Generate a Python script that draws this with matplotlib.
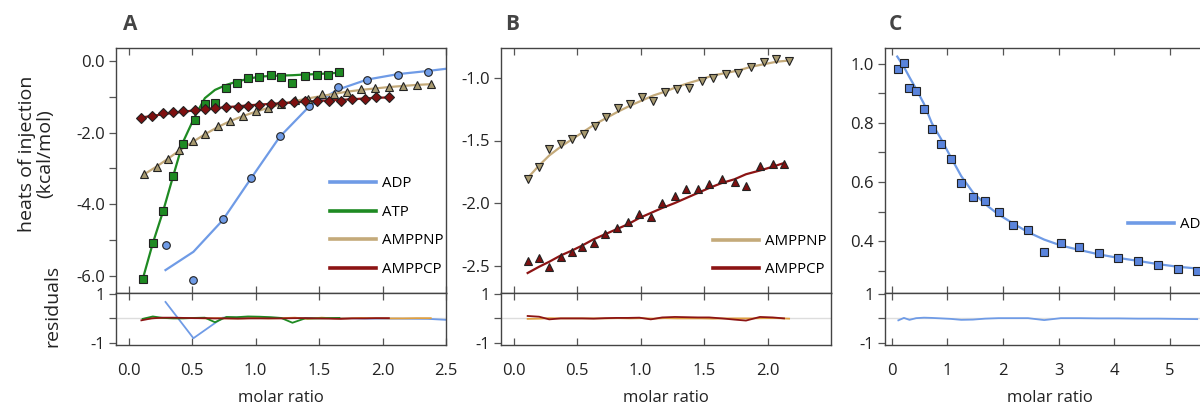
import matplotlib.pyplot as plt
from matplotlib.ticker import FixedLocator, FormatStrFormatter
from matplotlib.lines import Line2D

plt.rcParams['font.family'] = ['Open Sans', 'DejaVu Sans']
plt.rcParams['axes.unicode_minus'] = False

# ---- panel A data ----
adp_x = [0.29, 0.51, 0.74, 0.96, 1.19, 1.42, 1.65, 1.88, 2.12, 2.36]
adp_y = [-5.14, -6.13, -4.42, -3.28, -2.11, -1.26, -0.74, -0.54, -0.38, -0.30]
adp_fit_x = [0.29, 0.51, 0.74, 0.96, 1.19, 1.42, 1.65, 1.88, 2.12, 2.36, 2.5]
adp_fit = [-5.84, -5.33, -4.45, -3.30, -2.12, -1.28, -0.80, -0.52, -0.37, -0.28, -0.22]
adp_res = [0.68, -0.82, 0.03, 0.04, 0.02, 0.02, 0.01, -0.01, -0.01, -0.02, -0.06]

atp_x = [0.11, 0.19, 0.27, 0.35, 0.43, 0.52, 0.60, 0.68, 0.77, 0.85, 0.94, 1.03,
         1.12, 1.20, 1.29, 1.39, 1.48, 1.57, 1.66]
atp_y = [-6.10, -5.09, -4.19, -3.20, -2.31, -1.65, -1.20, -1.18, -0.77, -0.62, -0.49,
         -0.46, -0.40, -0.44, -0.61, -0.43, -0.38, -0.38, -0.32]
atp_fit = [-6.10, -5.09, -4.21, -3.22, -2.25, -1.56, -1.04, -0.81, -0.67, -0.58, -0.50,
           -0.44, -0.42, -0.41, -0.40, -0.38, -0.37, -0.35, -0.33]
atp_res = [-0.02, 0.08, 0.02, 0.00, 0.00, 0.02, 0.03, -0.16, 0.06, 0.05, 0.08,
           0.07, 0.05, 0.02, -0.18, 0.00, 0.00, 0.01, 0.02]

pnp_x = [0.12, 0.22, 0.31, 0.40, 0.51, 0.60, 0.70, 0.80, 0.90, 1.00, 1.10, 1.20,
         1.31, 1.41, 1.52, 1.62, 1.72, 1.83, 1.94, 2.05, 2.16, 2.27, 2.38]
pnp_y = [-3.17, -2.95, -2.74, -2.49, -2.23, -2.05, -1.82, -1.68, -1.54, -1.40, -1.32,
         -1.20, -1.09, -1.07, -0.92, -0.92, -0.87, -0.78, -0.75, -0.72, -0.69, -0.66, -0.64]
pnp_fit = [-3.17, -2.95, -2.73, -2.50, -2.25, -2.05, -1.85, -1.68, -1.54, -1.42, -1.31,
           -1.21, -1.12, -1.05, -0.98, -0.92, -0.86, -0.81, -0.77, -0.73, -0.70, -0.67, -0.65]
pnp_res = [-0.02, 0.02, 0.01, 0.01, 0.02, 0.00, 0.01, 0.00, 0.00, 0.02, 0.00,
           0.01, 0.03, -0.02, 0.03, 0.00, 0.00, 0.02, 0.01, 0.00, 0.00, 0.01, 0.01]

pcp_x = [0.10, 0.18, 0.27, 0.35, 0.43, 0.52, 0.60, 0.68, 0.77, 0.86, 0.94, 1.03,
         1.12, 1.21, 1.30, 1.39, 1.48, 1.58, 1.67, 1.76, 1.86, 1.95, 2.05]
pcp_y = [-1.60, -1.54, -1.46, -1.42, -1.40, -1.37, -1.34, -1.32, -1.29, -1.28, -1.25,
         -1.22, -1.20, -1.18, -1.15, -1.13, -1.12, -1.11, -1.11, -1.07, -1.05, -1.02, -1.01]
pcp_fit = [-1.58, -1.54, -1.49, -1.45, -1.42, -1.38, -1.35, -1.32, -1.29, -1.27, -1.24,
           -1.22, -1.20, -1.18, -1.16, -1.14, -1.12, -1.10, -1.09, -1.07, -1.05, -1.03, -1.02]
pcp_res = [-0.08, 0.00, 0.03, 0.03, 0.02, 0.01, 0.01, 0.00, 0.00, -0.01, 0.00,
           0.00, 0.00, 0.00, 0.01, 0.01, 0.00, -0.01, -0.02, 0.00, 0.00, 0.01, 0.01]

# ---- panel B data ----
b_pnp_x = [0.11, 0.20, 0.28, 0.37, 0.46, 0.55, 0.64, 0.73, 0.82, 0.92, 1.01, 1.10,
           1.19, 1.29, 1.38, 1.48, 1.57, 1.67, 1.77, 1.87, 1.97, 2.07, 2.17]
b_pnp_y = [-1.81, -1.71, -1.57, -1.53, -1.49, -1.45, -1.38, -1.31, -1.24, -1.21, -1.15,
           -1.18, -1.11, -1.09, -1.08, -1.02, -1.00, -0.97, -0.96, -0.91, -0.87, -0.85, -0.86]
b_pnp_fit = [-1.80, -1.70, -1.62, -1.55, -1.49, -1.43, -1.37, -1.32, -1.27, -1.22, -1.18,
             -1.14, -1.11, -1.07, -1.04, -1.01, -0.98, -0.96, -0.94, -0.91, -0.89, -0.87, -0.86]
b_pnp_res = [-0.02, -0.01, 0.01, 0.00, 0.00, 0.00, 0.00, 0.00, 0.01, 0.00, 0.01,
             -0.01, 0.01, 0.00, 0.00, 0.00, -0.01, 0.00, 0.00, 0.00, 0.01, 0.01, -0.01]

b_pcp_x = [0.11, 0.20, 0.28, 0.37, 0.46, 0.54, 0.63, 0.72, 0.81, 0.90, 0.99, 1.08,
           1.17, 1.27, 1.36, 1.45, 1.54, 1.64, 1.74, 1.83, 1.94, 2.04, 2.13]
b_pcp_y = [-2.46, -2.44, -2.51, -2.43, -2.39, -2.35, -2.32, -2.25, -2.20, -2.15, -2.09,
           -2.11, -2.00, -1.94, -1.89, -1.89, -1.85, -1.81, -1.83, -1.86, -1.70, -1.69, -1.69]
b_pcp_fit = [-2.56, -2.51, -2.47, -2.42, -2.38, -2.34, -2.29, -2.25, -2.21, -2.17, -2.12,
             -2.08, -2.04, -2.00, -1.96, -1.92, -1.88, -1.84, -1.81, -1.77, -1.74, -1.71, -1.68]
b_pcp_res = [0.10, 0.07, -0.04, 0.00, 0.00, 0.00, -0.01, 0.01, 0.02, 0.02, 0.03,
             -0.04, 0.04, 0.06, 0.05, 0.04, 0.04, 0.00, -0.05, -0.09, 0.06, 0.04, 0.00]

# ---- panel C data ----
c_x = [0.12, 0.22, 0.32, 0.44, 0.58, 0.72, 0.89, 1.06, 1.25, 1.46, 1.68, 1.92,
       2.18, 2.45, 2.74, 3.04, 3.37, 3.72, 4.07, 4.42, 4.78, 5.14, 5.49]
c_y = [0.982, 1.002, 0.918, 0.910, 0.847, 0.780, 0.730, 0.679, 0.596, 0.550, 0.537, 0.497,
       0.454, 0.437, 0.364, 0.392, 0.381, 0.360, 0.341, 0.334, 0.319, 0.305, 0.298]
c_fit_x = [0.10, 0.22, 0.32, 0.44, 0.58, 0.72, 0.89, 1.06, 1.25, 1.46, 1.68, 1.92,
           2.18, 2.45, 2.74, 3.04, 3.37, 3.72, 4.07, 4.42, 4.78, 5.14, 5.49, 5.8]
c_fit = [1.025, 0.99, 0.955, 0.915, 0.865, 0.80, 0.745, 0.685, 0.62, 0.565, 0.525, 0.49,
         0.46, 0.43, 0.405, 0.385, 0.37, 0.355, 0.343, 0.333, 0.322, 0.313, 0.307, 0.302]
c_res = [-0.08, 0.02, -0.06, 0.01, 0.03, 0.02, 0.00, -0.02, -0.06, -0.05, -0.01, 0.01,
         0.01, 0.01, -0.07, 0.01, 0.01, 0.00, 0.00, -0.01, -0.01, -0.02, -0.03]

c_adp = '#6f9be6'
c_atp = '#1e8a22'
c_pnp = '#c4aa7a'
c_pcp = '#8c1414'
edge = '#222222'

W, H = 1200, 412
fig = plt.figure(figsize=(12, 4.12), dpi=100)


def px(x0, y0, w, h):
    return [x0 / W, 1 - (y0 + h) / H, w / W, h / H]


def style(ax, ax_r, xlim, xticks, xfmt):
    for a in (ax, ax_r):
        a.set_xlim(xlim)
        a.set_xticks(xticks)
        a.tick_params(axis='x', direction='in', top=True, bottom=True, length=5,
                      color='#555555', width=0.9)
        a.tick_params(axis='y', direction='out', length=5, color='#555555', width=0.9,
                      labelsize=12, labelcolor='#222222', pad=3)
        a.tick_params(which='minor', axis='y', direction='out', length=5, color='#555555', width=0.9)
        for s in a.spines.values():
            s.set_color('#444444')
            s.set_linewidth(1.0)
    ax.tick_params(axis='x', labelbottom=False)
    ax_r.tick_params(axis='x', labelsize=12, labelcolor='#222222', pad=13)
    ax_r.xaxis.set_major_formatter(FormatStrFormatter(xfmt))
    ax_r.set_ylim(-1.1, 1.05)
    ax_r.set_yticks([1, -1])
    ax_r.set_yticklabels(['1', '-1'])
    ax_r.yaxis.set_minor_locator(FixedLocator([0]))
    ax_r.axhline(0, color='#dddddd', lw=1, zorder=0)
    ax_r.set_xlabel('molar ratio', fontsize=12, color='#222222', labelpad=8)


def legend(ax, items, xa, ya):
    handles = [Line2D([], [], color=c, lw=2.6) for c, _ in items]
    ax.legend(handles, [t for _, t in items], loc='center left', bbox_to_anchor=(xa, ya),
              frameon=False, fontsize=10.8, handlelength=3.1, handletextpad=0.4,
              labelspacing=0.9, borderpad=0, borderaxespad=0)


mk = dict(markeredgecolor=edge, markeredgewidth=0.8, linestyle='none', zorder=3)

# ---- panel A ----
axA = fig.add_axes(px(116, 48, 330, 245))
axAr = fig.add_axes(px(116, 293, 330, 52))
axA.plot(adp_fit_x, adp_fit, color=c_adp, lw=1.6)
axA.plot(adp_x, adp_y, marker='o', ms=5.5, color=c_adp, **mk)
axA.plot(atp_x, atp_fit, color=c_atp, lw=1.6)
axA.plot(atp_x, atp_y, marker='s', ms=5.5, color=c_atp, **mk)
axA.plot(pnp_x, pnp_fit, color=c_pnp, lw=1.6)
axA.plot(pnp_x, pnp_y, marker='^', ms=5.5, color='#a89a70', **mk)
axA.plot(pcp_x, pcp_fit, color=c_pcp, lw=1.6)
axA.plot(pcp_x, pcp_y, marker='D', ms=5.5, color='#7e1010', **mk)
axA.set_ylim(-6.48, 0.36)
axA.set_yticks([0, -2, -4, -6])
axA.yaxis.set_major_formatter(FormatStrFormatter('%.1f'))
axA.yaxis.set_minor_locator(FixedLocator([-1, -3, -5]))
axAr.plot(adp_fit_x, adp_res, color=c_adp, lw=1.3)
axAr.plot(pnp_x, pnp_res, color='#e0a040', lw=1.3)
axAr.plot(atp_x, atp_res, color=c_atp, lw=1.3)
axAr.plot(pcp_x, pcp_res, color=c_pcp, lw=1.3)
style(axA, axAr, (-0.1, 2.5), [0, 0.5, 1.0, 1.5, 2.0, 2.5], '%.1f')
legend(axA, [(c_adp, 'ADP'), (c_atp, 'ATP'), (c_pnp, 'AMPPNP'), (c_pcp, 'AMPPCP')], 0.648, 0.271)

# ---- panel B ----
axB = fig.add_axes(px(501, 48, 330, 245))
axBr = fig.add_axes(px(501, 293, 330, 52))
axB.plot(b_pnp_x, b_pnp_fit, color=c_pnp, lw=1.6)
axB.plot(b_pnp_x, b_pnp_y, marker='v', ms=5.5, color='#a89a70', **mk)
axB.plot(b_pcp_x, b_pcp_fit, color=c_pcp, lw=1.6)
axB.plot(b_pcp_x, b_pcp_y, marker='^', ms=5.5, color='#7e1010', **mk)
axB.set_ylim(-2.72, -0.76)
axB.set_yticks([-1.0, -1.5, -2.0, -2.5])
axB.yaxis.set_major_formatter(FormatStrFormatter('%.1f'))
axBr.plot(b_pnp_x, b_pnp_res, color='#e0a040', lw=1.3)
axBr.plot(b_pcp_x, b_pcp_res, color=c_pcp, lw=1.3)
style(axB, axBr, (-0.1, 2.5), [0, 0.5, 1.0, 1.5, 2.0], '%.1f')
legend(axB, [(c_pnp, 'AMPPNP'), (c_pcp, 'AMPPCP')], 0.642, 0.153)

# ---- panel C (runs past the right edge, as in the source figure) ----
axC = fig.add_axes(px(885, 48, 330, 245))
axCr = fig.add_axes(px(885, 293, 330, 52))
axC.plot(c_fit_x, c_fit, color=c_adp, lw=1.6)
axC.plot(c_x, c_y, marker='s', ms=5.5, color='#5a84dc', **mk)
axC.set_ylim(0.224, 1.054)
axC.set_yticks([0.4, 0.6, 0.8, 1.0])
axC.yaxis.set_major_formatter(FormatStrFormatter('%.1f'))
axC.yaxis.set_minor_locator(FixedLocator([0.3, 0.5, 0.7, 0.9]))
axCr.plot(c_x, c_res, color=c_adp, lw=1.3)
style(axC, axCr, (-0.12, 5.81), [0, 1, 2, 3, 4, 5], '%d')
legend(axC, [(c_adp, 'ADP')], 0.736, 0.278)

# labels
fig.text(130 / W, 1 - 25 / H, 'A', fontsize=15, fontweight='bold', color='#444444', ha='center', va='center')
fig.text(512 / W, 1 - 25 / H, 'B', fontsize=15, fontweight='bold', color='#444444', ha='center', va='center')
fig.text(895 / W, 1 - 25 / H, 'C', fontsize=15, fontweight='bold', color='#444444', ha='center', va='center')
fig.text(36 / W, 1 - 154 / H, 'heats of injection\n(kcal/mol)', rotation=90, fontsize=14,
         color='#222222', ha='center', va='center', linespacing=1.05)
fig.text(52 / W, 1 - 306 / H, 'residuals', rotation=90, fontsize=14,
         color='#222222', ha='center', va='center')

plt.savefig('out.png', dpi=100)
